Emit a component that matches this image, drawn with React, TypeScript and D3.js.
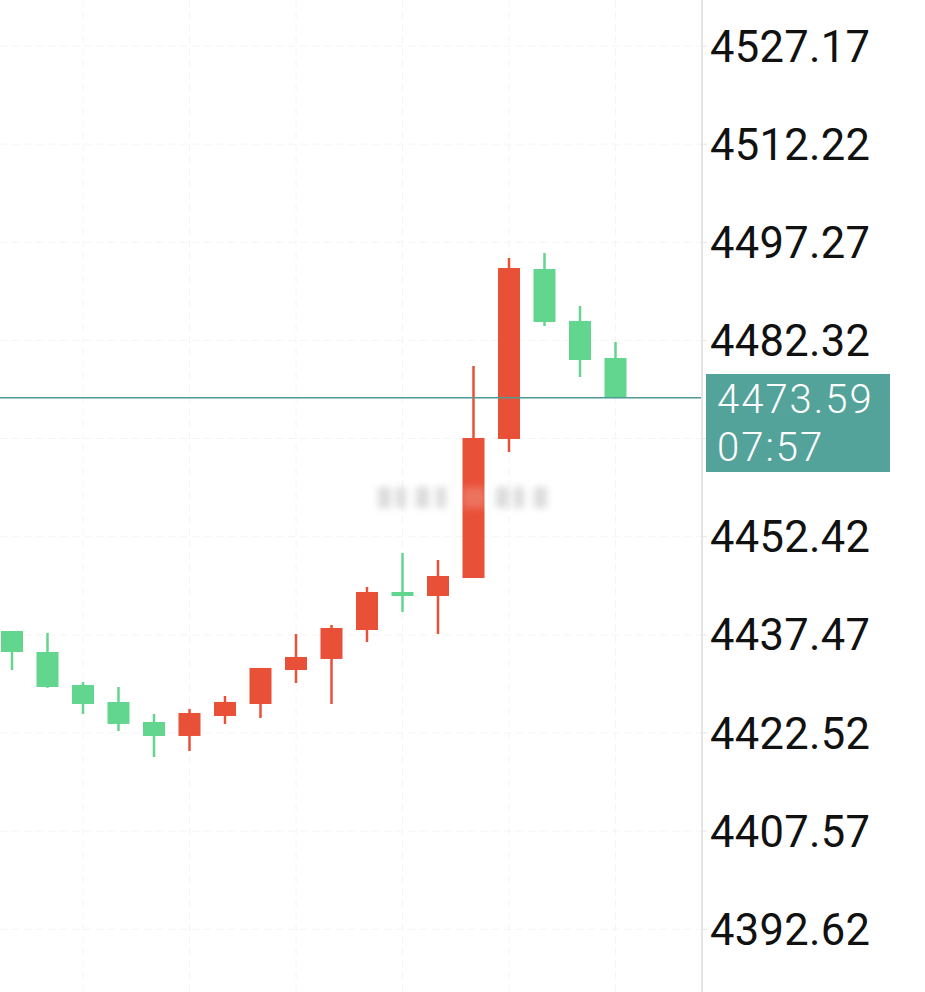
import React from "react";
import * as d3 from "d3";

const opens = [4438.06, 4434.86, 4429.84, 4427.25, 4424.2, 4422.07, 4425.11, 4426.94, 4432.12, 4433.8, 4438.21, 4444.0, 4443.39, 4446.13, 4467.31, 4493.2, 4485.28, 4479.65];
const highs = [4438.06, 4437.76, 4430.29, 4429.53, 4425.42, 4426.18, 4428.16, 4432.43, 4437.6, 4438.98, 4444.76, 4449.94, 4448.88, 4478.43, 4494.88, 4495.64, 4487.57, 4482.08];
const lows = [4432.12, 4429.4, 4425.42, 4422.83, 4418.87, 4419.78, 4423.9, 4424.81, 4430.14, 4426.94, 4436.39, 4440.96, 4437.6, 4446.13, 4465.33, 4484.52, 4476.75, 4473.59];
const closes = [4434.86, 4429.53, 4426.94, 4423.9, 4422.07, 4425.57, 4427.25, 4432.43, 4434.1, 4438.52, 4444.0, 4443.39, 4446.44, 4467.46, 4493.35, 4485.13, 4479.34, 4473.59];
const yTicks = [4527.17, 4512.22, 4497.27, 4482.32, 4467.37, 4452.42, 4437.47, 4422.52, 4407.57, 4392.62];
const gridIdx = [2, 5, 8, 11, 14, 17];
const lastPrice = 4473.59;
const countdown = "07:57";

const UP = "#E85037";
const DOWN = "#62D68E";
const TEAL = "#54A39B";

export default function App() {
  const W = 925, H = 992;
  const plotRight = 702;
  const y = d3.scaleLinear().domain([4392.62, 4527.17]).range([929.3, 46]);
  const x = d3.scaleLinear().domain([0, 17]).range([12, 615.5]);
  const bodyW = 22;
  const fmt = d3.format(".2f");
  const py = y(lastPrice);
  const shownTicks = yTicks.filter((t) => Math.abs(y(t) - py) > 40);
  return (
    <svg width={W} height={H} style={{ position: "fixed", left: 0, top: 0, background: "#fff" }} xmlns="http://www.w3.org/2000/svg">
      <defs>
        <filter id="blur" x="-20%" y="-50%" width="140%" height="200%">
          <feGaussianBlur stdDeviation="3.5" />
        </filter>
      </defs>
      <rect x={0} y={0} width={W} height={H} fill="#fff" />
      {yTicks.map((t) => (
        <line key={"h" + t} x1={0} x2={plotRight} y1={y(t)} y2={y(t)} stroke="#f4f4f4" strokeWidth={1} strokeDasharray="7,5" />
      ))}
      {gridIdx.map((i) => (
        <line key={"v" + i} x1={x(i)} x2={x(i)} y1={0} y2={H} stroke="#f4f4f4" strokeWidth={1} strokeDasharray="7,5" />
      ))}
      <g filter="url(#blur)" fill="#dcdcdc">
        {[378, 396, 416, 436, 496, 514, 534].map((wx, k) => (
          <rect key={k} x={wx} y={487} width={k % 2 ? 10 : 13} height={21} />
        ))}
      </g>
      {opens.map((o, i) => {
        const c = closes[i];
        const up = c >= o;
        const col = up ? UP : DOWN;
        const top = y(Math.max(o, c));
        const bot = y(Math.min(o, c));
        const h = Math.max(4, bot - top);
        return (
          <g key={i}>
            <line x1={x(i)} x2={x(i)} y1={y(highs[i])} y2={y(lows[i])} stroke={col} strokeWidth={2.5} />
            <rect x={x(i) - bodyW / 2} y={top} width={bodyW} height={h} fill={col} />
          </g>
        );
      })}
      <g filter="url(#blur)" fill="#ffffff" opacity={0.2}>
        <rect x={462} y={487} width={24} height={21} />
      </g>
      <line x1={0} x2={plotRight} y1={py} y2={py} stroke="#4E9A94" strokeWidth={1.5} />
      <line x1={plotRight} x2={plotRight} y1={0} y2={H} stroke="#e4e4e4" strokeWidth={2} />
      {shownTicks.map((t) => (
        <g key={"t" + t}>
          <line x1={plotRight} x2={plotRight + 5} y1={y(t)} y2={y(t)} stroke="#e4e4e4" strokeWidth={1} />
          <text x={710} y={y(t) + 15.5} fontFamily="Roboto, sans-serif" fontSize={43.5} letterSpacing={0.3} fill="#111">
            {fmt(t)}
          </text>
        </g>
      ))}
      <rect x={706} y={374} width={184} height={98} fill={TEAL} />
      <text x={717} y={413} fontFamily="Roboto, sans-serif" fontSize={40} fontWeight={300} letterSpacing={2} fill="#fff">
        {fmt(lastPrice)}
      </text>
      <text x={717} y={461} fontFamily="Roboto, sans-serif" fontSize={40} fontWeight={300} letterSpacing={2} fill="#fff">
        {countdown}
      </text>
    </svg>
  );
}
